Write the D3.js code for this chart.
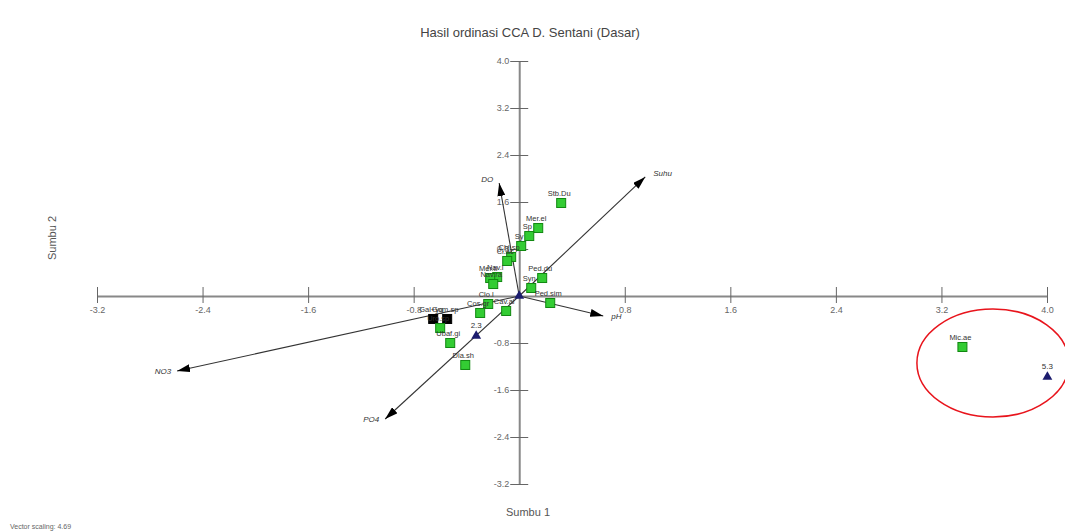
<!DOCTYPE html>
<html>
<head>
<meta charset="utf-8">
<script src="https://cdn.jsdelivr.net/npm/d3@7"></script>
<style>
  html, body { margin: 0; padding: 0; background: #fff; }
  svg { display: block; font-family: "Liberation Sans", Arial, sans-serif; }
</style>
</head>
<body>
<svg id="chart" width="1065" height="531"></svg>
<script>
// CCA ordination scores (axis 1 / axis 2)
const tickValues = [-3.2, -2.4, -1.6, -0.8, 0.8, 1.6, 2.4, 3.2, 4.0];

const envNames = ["DO", "Suhu", "pH", "NO3", "PO4"];
const envAx1   = [-0.152, 0.955, 0.637, -2.593, -1.016];
const envAx2   = [1.923, 2.026, -0.340, -1.277, -2.094];

const speciesNames = ["Stb.Du", "Mer.el", "Sp", "Sy", "Chl.sp", "Cl.ac", "Nav.l", "Mer.ti", "Nav.ra",
                      "Ped.du", "Syn", "Ped.sim", "Clo.l", "Cos.gr", "Cav.al", "Gal+yg", "Gom.sp",
                      "Uro.sp", "Ubaf.gi", "Dia.sh", "Mic.ae"];
const speciesAx1 = [0.318, 0.144, 0.076, 0.015, -0.061, -0.091, -0.167, -0.220, -0.197,
                    0.174, 0.091, 0.235, -0.235, -0.296, -0.099, -0.652, -0.546,
                    -0.599, -0.523, -0.409, 3.359];
const speciesAx2 = [1.583, 1.157, 1.021, 0.851, 0.664, 0.596, 0.323, 0.306, 0.204,
                    0.306, 0.136, -0.119, -0.136, -0.289, -0.255, -0.391, -0.391,
                    -0.545, -0.800, -1.174, -0.868];
const highlighted = ["Gal+yg", "Gom.sp"];

const siteNames = ["2.3", "5.3", ""];
const siteAx1   = [-0.326, 4.003, 0.000];
const siteAx2   = [-0.681, -1.379, 0.000];

const svg = d3.select("#chart");

const x = d3.scaleLinear().domain([-3.2, 4.0]).range([97, 1047]);
const y = d3.scaleLinear().domain([-3.2, 4.0]).range([484, 61]);

// Title and axis captions
svg.append("text").attr("x", 530).attr("y", 37).attr("text-anchor", "middle")
  .attr("font-size", 13).attr("fill", "#444").text("Hasil ordinasi CCA D. Sentani (Dasar)");
svg.append("text").attr("x", 528).attr("y", 516).attr("text-anchor", "middle")
  .attr("font-size", 11).attr("fill", "#555").text("Sumbu 1");
svg.append("text").attr("transform", "translate(56,238) rotate(-90)").attr("text-anchor", "middle")
  .attr("font-size", 11).attr("fill", "#555").text("Sumbu 2");
svg.append("text").attr("x", 10).attr("y", 529).attr("font-size", 7).attr("fill", "#666")
  .text("Vector scaling: 4.69");

// Axes through the origin, ticks crossing the line (plain hyphen minus)
const fmt = d => d.toFixed(1);
const gx = svg.append("g").attr("transform", `translate(0,${y(0)})`)
  .call(d3.axisBottom(x).tickValues(tickValues).tickFormat(fmt).tickSizeOuter(0));
gx.select(".domain").attr("stroke", "#888").attr("stroke-width", 2);
gx.selectAll(".tick line").attr("y1", -9).attr("y2", 7).attr("stroke", "#666");
gx.selectAll(".tick text").attr("y", 11).attr("font-size", 9).attr("fill", "#666")
  .attr("font-family", "Liberation Sans, Arial, sans-serif");

const gy = svg.append("g").attr("transform", `translate(${x(0)},0)`)
  .call(d3.axisLeft(y).tickValues(tickValues).tickFormat(fmt).tickSizeOuter(0));
gy.select(".domain").attr("stroke", "#888").attr("stroke-width", 2);
gy.selectAll(".tick line").attr("x1", -9).attr("x2", 9).attr("stroke", "#666");
gy.selectAll(".tick text").attr("x", -10).attr("font-size", 9).attr("fill", "#666")
  .attr("font-family", "Liberation Sans, Arial, sans-serif");

// Arrow head marker
svg.append("defs").append("marker")
  .attr("id", "head").attr("markerUnits", "userSpaceOnUse")
  .attr("viewBox", "0 0 13 8").attr("refX", 13).attr("refY", 4)
  .attr("markerWidth", 13).attr("markerHeight", 8).attr("orient", "auto")
  .append("path").attr("d", "M0,0 L13,4 L0,8 Z").attr("fill", "#000");

// Environmental vectors
const env = envNames.map((n, i) => ({ name: n, a1: envAx1[i], a2: envAx2[i] }));
svg.append("g").selectAll("line").data(env).join("line")
  .attr("x1", x(0)).attr("y1", y(0))
  .attr("x2", d => x(d.a1)).attr("y2", d => y(d.a2))
  .attr("stroke", "#333").attr("stroke-width", 1.1).attr("marker-end", "url(#head)");
svg.append("g").selectAll("text").data(env).join("text")
  .attr("x", d => x(d.a1) + (d.a1 < 0 ? -6 : 8))
  .attr("y", d => y(d.a2) + (d.a2 > 0 ? -1 : 3))
  .attr("text-anchor", d => d.a1 < 0 ? "end" : "start")
  .attr("font-size", 8).attr("font-style", "italic").attr("fill", "#333")
  .text(d => d.name);

// Species scores
const species = speciesNames.map((n, i) => ({ name: n, a1: speciesAx1[i], a2: speciesAx2[i] }));
const sp = svg.append("g");
sp.selectAll("rect").data(species).join("rect")
  .attr("x", d => x(d.a1) - 4.5).attr("y", d => y(d.a2) - 4.5)
  .attr("width", 9).attr("height", 9)
  .attr("fill", d => highlighted.includes(d.name) ? "#000" : "#33cc33")
  .attr("stroke", d => highlighted.includes(d.name) ? "#000" : "#118811").attr("stroke-width", 1);
sp.selectAll("text").data(species).join("text")
  .attr("x", d => x(d.a1) - 2).attr("y", d => y(d.a2) - 7)
  .attr("text-anchor", "middle").attr("font-size", 7.5).attr("fill", "#333")
  .text(d => d.name);

// Site scores
const sites = siteNames.map((n, i) => ({ name: n, a1: siteAx1[i], a2: siteAx2[i] }));
const st = svg.append("g");
st.selectAll("path").data(sites).join("path")
  .attr("transform", d => `translate(${x(d.a1)},${y(d.a2)})`)
  .attr("d", d3.symbol().type(d3.symbolTriangle).size(42))
  .attr("fill", "#1c1c6e");
st.selectAll("text").data(sites).join("text")
  .attr("x", d => x(d.a1)).attr("y", d => y(d.a2) - 8)
  .attr("text-anchor", "middle").attr("font-size", 8).attr("fill", "#333")
  .text(d => d.name);

// Highlight ring around the outlying group
svg.append("ellipse")
  .attr("cx", (x(3.359) + x(4.003)) / 2 - 12).attr("cy", 363)
  .attr("rx", 76).attr("ry", 54)
  .attr("fill", "none").attr("stroke", "#e8141c").attr("stroke-width", 1.5);
</script>
</body>
</html>
